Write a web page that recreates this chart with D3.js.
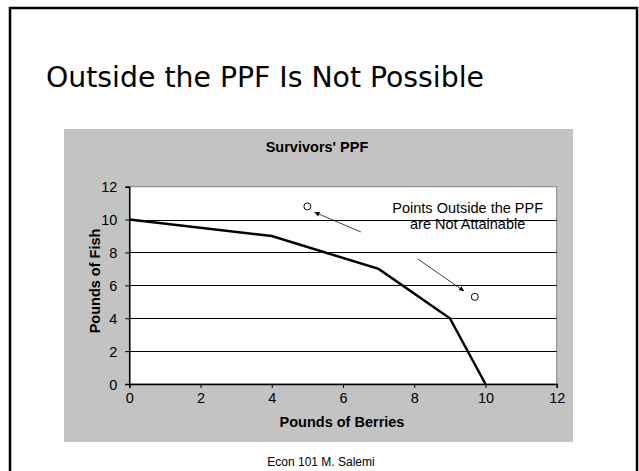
<!DOCTYPE html>
<html>
<head>
<meta charset="utf-8">
<script src="https://cdn.jsdelivr.net/npm/d3@7"></script>
<style>
  html, body { margin: 0; padding: 0; background: #fff; }
  svg { display: block; }
</style>
</head>
<body>
<svg id="chart" width="639" height="471"></svg>
<script>
// ---- data ----
const slideTitle = "Outside the PPF Is Not Possible";
const chartTitle = "Survivors' PPF";
const xAxisTitle = "Pounds of Berries";
const yAxisTitle = "Pounds of Fish";
const footerText = "Econ 101 M. Salemi";
const berries = [0, 4, 7, 9, 10];
const fish = [10, 9, 7, 4, 0];
const outsideX = [5, 9.7];
const outsideY = [10.8, 5.3];
const xTicks = [0, 2, 4, 6, 8, 10, 12];
const yTicks = [0, 2, 4, 6, 8, 10, 12];
const noteLines = ["Points Outside the PPF", "are Not Attainable"];
const arrowFromX = [6.5, 8.1];
const arrowFromY = [9.25, 7.6];
const arrowToX = [5.2, 9.4];
const arrowToY = [10.45, 5.65];
const noteX = 9.5;
const noteY = [10.4, 9.4];

const svg = d3.select("#chart");

// slide border
svg.append("rect")
  .attr("x", 10).attr("y", 8).attr("width", 627).attr("height", 480)
  .attr("fill", "none").attr("stroke", "#000").attr("stroke-width", 2.5);

// slide title
svg.append("text")
  .attr("x", 46).attr("y", 87)
  .attr("font-family", "DejaVu Sans Condensed, DejaVu Sans, sans-serif")
  .attr("font-size", 28.5)
  .attr("textLength", 438).attr("lengthAdjust", "spacingAndGlyphs")
  .attr("fill", "#000")
  .text(slideTitle);

// gray chart area
svg.append("rect")
  .attr("x", 64).attr("y", 129).attr("width", 509).attr("height", 313)
  .attr("fill", "#c3c3c3");

const margin = {left: 129.3, right: 556.7, top: 186.7, bottom: 384};
const x = d3.scaleLinear().domain([0, 12]).range([margin.left, margin.right]);
const y = d3.scaleLinear().domain([0, 12]).range([margin.bottom, margin.top]);

// plot background
svg.append("rect")
  .attr("x", x(0)).attr("y", y(12))
  .attr("width", x(12) - x(0)).attr("height", y(0) - y(12))
  .attr("fill", "#fff").attr("stroke", "#808080").attr("stroke-width", 1);

// gridlines
svg.append("g")
  .selectAll("line")
  .data(yTicks.filter(d => d > 0 && d < 12))
  .join("line")
  .attr("x1", x(0)).attr("x2", x(12))
  .attr("y1", d => Math.round(y(d)) + 0.5).attr("y2", d => Math.round(y(d)) + 0.5)
  .attr("stroke", "#000").attr("stroke-width", 1);

const font = "Liberation Sans, Arial, sans-serif";

// axes
const xAxis = svg.append("g")
  .attr("transform", `translate(0,${y(0)})`)
  .call(d3.axisBottom(x).tickValues(xTicks).tickFormat(d3.format("d")).tickSize(4).tickPadding(5));
const yAxis = svg.append("g")
  .attr("transform", `translate(${x(0)},0)`)
  .call(d3.axisLeft(y).tickValues(yTicks).tickFormat(d3.format("d")).tickSize(4).tickPadding(8));
[xAxis, yAxis].forEach(g => {
  g.selectAll("text").attr("font-family", font).attr("font-size", 14.5).attr("fill", "#000");
  g.selectAll("line").attr("stroke", "#000");
  g.select(".domain").attr("stroke", "#000").attr("stroke-width", 1.5);
});
yAxis.selectAll("text").attr("dy", "0.36em");

// chart title
svg.append("text")
  .attr("x", 317).attr("y", 152)
  .attr("text-anchor", "middle")
  .attr("font-family", font).attr("font-weight", "bold").attr("font-size", 14.5)
  .text(chartTitle);

// axis titles
svg.append("text")
  .attr("x", 342).attr("y", 427)
  .attr("text-anchor", "middle")
  .attr("font-family", font).attr("font-weight", "bold").attr("font-size", 14.5)
  .text(xAxisTitle);
svg.append("text")
  .attr("transform", "translate(100,281) rotate(-90)")
  .attr("text-anchor", "middle")
  .attr("font-family", font).attr("font-weight", "bold").attr("font-size", 14.5)
  .text(yAxisTitle);

// PPF line
const line = d3.line().x(d => x(d[0])).y(d => y(d[1]));
svg.append("path")
  .datum(berries.map((b, i) => [b, fish[i]]))
  .attr("d", line)
  .attr("fill", "none").attr("stroke", "#000").attr("stroke-width", 2.5)
  .attr("stroke-linejoin", "miter");

// arrows
const defs = svg.append("defs");
defs.append("marker")
  .attr("id", "arrow").attr("viewBox", "0 0 10 10")
  .attr("refX", 10).attr("refY", 5)
  .attr("markerWidth", 7).attr("markerHeight", 5)
  .attr("markerUnits", "userSpaceOnUse")
  .attr("orient", "auto")
  .append("path").attr("d", "M0,0 L10,5 L0,10 z").attr("fill", "#000");

svg.append("g")
  .selectAll("line")
  .data(arrowFromX.map((d, i) => i))
  .join("line")
  .attr("x1", i => x(arrowFromX[i])).attr("y1", i => y(arrowFromY[i]))
  .attr("x2", i => x(arrowToX[i])).attr("y2", i => y(arrowToY[i]))
  .attr("stroke", "#000").attr("stroke-width", 0.75)
  .attr("marker-end", "url(#arrow)");

// outside points
svg.append("g")
  .selectAll("circle")
  .data(outsideX.map((d, i) => [d, outsideY[i]]))
  .join("circle")
  .attr("cx", d => x(d[0])).attr("cy", d => y(d[1]))
  .attr("r", 3.5)
  .attr("fill", "#fff").attr("stroke", "#000").attr("stroke-width", 1);

// note text
svg.append("g")
  .selectAll("text")
  .data(noteLines)
  .join("text")
  .attr("x", x(noteX)).attr("y", (d, i) => y(noteY[i]))
  .attr("text-anchor", "middle")
  .attr("font-family", font).attr("font-size", 14.5)
  .text(d => d);

// footer
svg.append("text")
  .attr("x", 321).attr("y", 466)
  .attr("text-anchor", "middle")
  .attr("font-family", font).attr("font-size", 12)
  .text(footerText);
</script>
</body>
</html>
